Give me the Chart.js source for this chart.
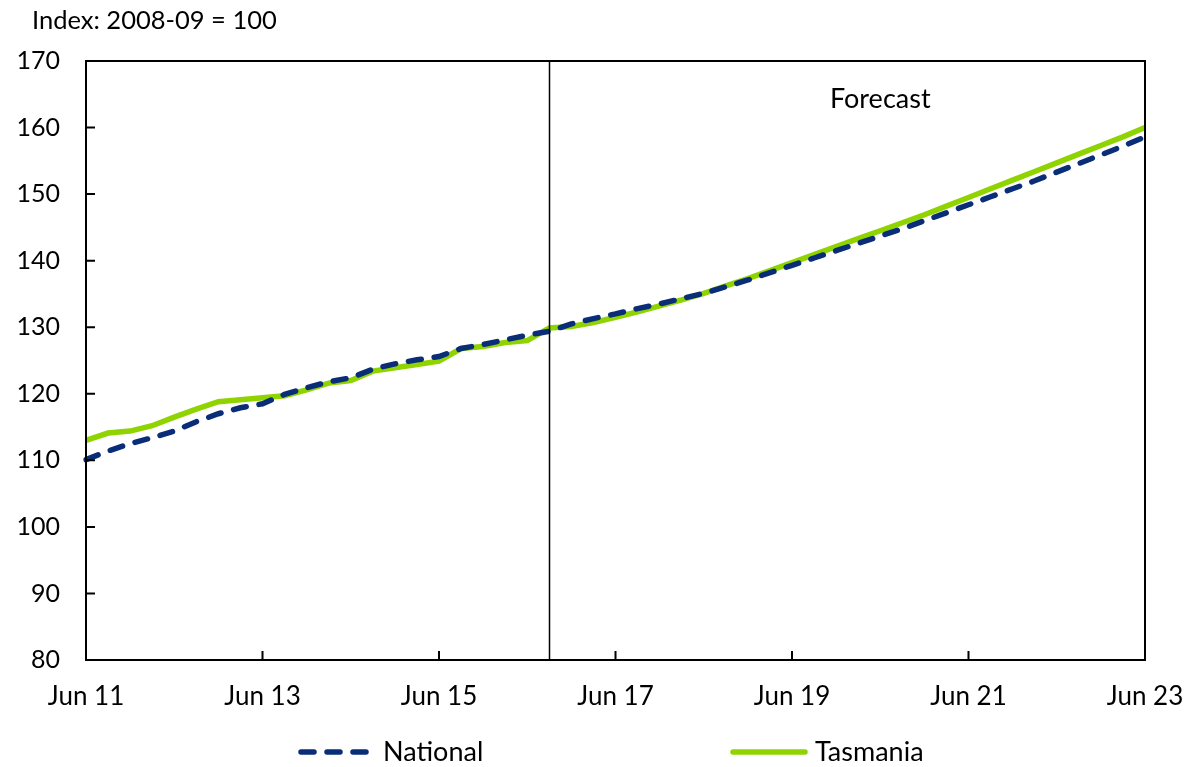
<!DOCTYPE html>
<html>
<head>
<meta charset="utf-8">
<script src="https://cdn.jsdelivr.net/npm/chart.js@4.4.1/dist/chart.umd.min.js"></script>
<style>
  html, body { margin: 0; padding: 0; background: #fff; }
  #wrap { position: relative; width: 1190px; height: 767px; }
</style>
</head>
<body>
<div id="wrap"><canvas id="chart" width="1190" height="767"></canvas></div>
<script>
// ── Data ─────────────────────────────────────────────────────
const quarters = [
  'Jun 11', 'Sep 11', 'Dec 11', 'Mar 12', 'Jun 12', 'Sep 12', 'Dec 12', 'Mar 13',
  'Jun 13', 'Sep 13', 'Dec 13', 'Mar 14', 'Jun 14', 'Sep 14', 'Dec 14', 'Mar 15',
  'Jun 15', 'Sep 15', 'Dec 15', 'Mar 16', 'Jun 16', 'Sep 16', 'Dec 16', 'Mar 17',
  'Jun 17', 'Sep 17', 'Dec 17', 'Mar 18', 'Jun 18', 'Sep 18', 'Dec 18', 'Mar 19',
  'Jun 19', 'Sep 19', 'Dec 19', 'Mar 20', 'Jun 20', 'Sep 20', 'Dec 20', 'Mar 21',
  'Jun 21', 'Sep 21', 'Dec 21', 'Mar 22', 'Jun 22', 'Sep 22', 'Dec 22', 'Mar 23',
  'Jun 23'
];

const national = [
  110.1, 111.4, 112.5, 113.4, 114.4, 115.8, 117.0, 117.9,
  118.5, 119.9, 120.9, 121.8, 122.4, 123.7, 124.5, 125.1,
  125.6, 126.8, 127.4, 128.1, 128.8, 129.4, 130.5, 131.3,
  132.0, 132.8, 133.5, 134.3, 135.1, 136.1, 137.1, 138.2,
  139.3, 140.4, 141.5, 142.6, 143.7, 144.8, 146.0, 147.2,
  148.4, 149.6, 150.8, 152.0, 153.3, 154.6, 155.9, 157.2,
  158.6
];

const tasmania = [
  113.0, 114.1, 114.4, 115.2, 116.5, 117.7, 118.8, 119.1,
  119.4, 119.7, 120.6, 121.6, 122.0, 123.4, 123.9, 124.4,
  124.9, 126.8, 127.1, 127.7, 128.0, 129.9, 130.1, 130.7,
  131.5, 132.3, 133.2, 134.1, 135.1, 136.2, 137.3, 138.5,
  139.7, 140.9, 142.1, 143.3, 144.5, 145.7, 146.9, 148.2,
  149.5, 150.8, 152.1, 153.4, 154.7, 156.0, 157.3, 158.6,
  160.0
];

const xTickLabels = ['Jun 11', 'Jun 13', 'Jun 15', 'Jun 17', 'Jun 19', 'Jun 21', 'Jun 23'];
const yMin = 80;
const yMax = 170;
const yStep = 10;
const forecastFrom = 'Sep 16';
const forecastLabelAt = ['Jun 20', 164.3];

const FONT = "Lato, 'Open Sans', sans-serif";
const NAVY = '#0a2d78';
const GREEN = '#8fd400';

// ── Frame, inward ticks, forecast marker, legend ─────────────
const decorations = {
  id: 'decorations',
  afterDatasetsDraw(chart) {
    const { ctx, chartArea: a, scales: { x, y } } = chart;
    ctx.save();

    // forecast divider
    const fx = Math.round(x.getPixelForValue(quarters.indexOf(forecastFrom))) + 0.5;
    ctx.strokeStyle = '#000';
    ctx.lineWidth = 1.5;
    ctx.beginPath();
    ctx.moveTo(fx, a.top);
    ctx.lineTo(fx, a.bottom);
    ctx.stroke();

    // plot frame
    ctx.lineWidth = 2;
    ctx.strokeRect(a.left, a.top, a.right - a.left, a.bottom - a.top);

    // inward ticks
    ctx.beginPath();
    for (let v = yMin; v <= yMax; v += yStep) {
      const py = y.getPixelForValue(v);
      ctx.moveTo(a.left, py);
      ctx.lineTo(a.left + 9, py);
    }
    xTickLabels.forEach(l => {
      const px = x.getPixelForValue(quarters.indexOf(l));
      ctx.moveTo(px, a.bottom);
      ctx.lineTo(px, a.bottom - 9);
    });
    ctx.stroke();

    // texts
    ctx.fillStyle = '#000';
    ctx.textBaseline = 'middle';
    ctx.textAlign = 'center';
    ctx.font = `27px ${FONT}`;
    ctx.fillText('Forecast',
      x.getPixelForValue(quarters.indexOf(forecastLabelAt[0])),
      y.getPixelForValue(forecastLabelAt[1]));

    ctx.textAlign = 'left';
    ctx.font = `25.5px ${FONT}`;
    ctx.fillText('Index: 2008-09 = 100', 32, 21);

    // legend
    ctx.font = `27px ${FONT}`;
    const items = [
      { ds: chart.data.datasets[0], x0: 298, x1: 372, tx: 383 },
      { ds: chart.data.datasets[1], x0: 730, x1: 808, tx: 815 }
    ];
    const ly = 752;
    items.forEach(it => {
      ctx.strokeStyle = it.ds.borderColor;
      ctx.lineWidth = it.ds.borderWidth;
      ctx.lineCap = 'round';
      ctx.setLineDash(it.ds.borderDash || []);
      ctx.beginPath();
      ctx.moveTo(it.x0 + 3, ly);
      ctx.lineTo(it.x1 - 3, ly);
      ctx.stroke();
      ctx.setLineDash([]);
      ctx.fillText(it.ds.label, it.tx, ly);
    });

    ctx.restore();
  }
};

new Chart(document.getElementById('chart'), {
  type: 'line',
  data: {
    labels: quarters,
    datasets: [
      {
        label: 'National',
        data: national,
        borderColor: NAVY,
        borderWidth: 5.5,
        borderDash: [13, 13],
        borderCapStyle: 'round',
        pointRadius: 0,
        tension: 0,
        fill: false
      },
      {
        label: 'Tasmania',
        data: tasmania,
        borderColor: GREEN,
        borderWidth: 5.5,
        borderCapStyle: 'butt',
        pointRadius: 0,
        tension: 0,
        fill: false
      }
    ]
  },
  options: {
    responsive: false,
    animation: false,
    devicePixelRatio: 1,
    layout: { padding: { top: 61, right: 45, left: 0, bottom: 0 } },
    plugins: {
      legend: { display: false },
      tooltip: { enabled: false }
    },
    scales: {
      x: {
        type: 'category',
        offset: false,
        grid: { display: false, drawTicks: false },
        border: { display: false },
        ticks: {
          autoSkip: false,
          maxRotation: 0,
          padding: 21,
          color: '#000',
          font: { family: FONT, size: 26 },
          callback: (v, i) => xTickLabels.includes(quarters[i]) ? quarters[i] : ''
        },
        afterFit: s => {
          s.height = 107;
          s.paddingLeft = 0;
          s.paddingRight = 0;
        }
      },
      y: {
        min: yMin,
        max: yMax,
        grid: { display: false, drawTicks: false },
        border: { display: false },
        ticks: {
          stepSize: yStep,
          padding: 26,
          color: '#000',
          font: { family: FONT, size: 25 }
        },
        afterFit: s => { s.width = 86; }
      }
    }
  },
  plugins: [decorations]
});
</script>
</body>
</html>
